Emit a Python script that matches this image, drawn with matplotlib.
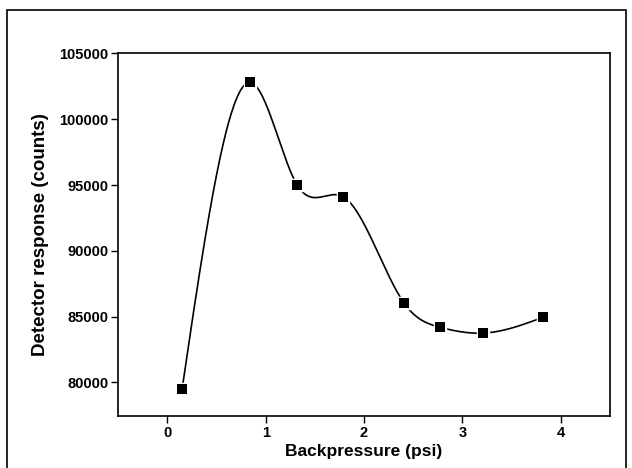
import matplotlib
matplotlib.use('Agg')
import matplotlib.pyplot as plt
import numpy as np
from matplotlib.patches import Rectangle

backpressure = [0.15, 0.84, 1.32, 1.79, 2.41, 2.77, 3.21, 3.82]
response = [79500, 102800, 95000, 94100, 86000, 84200, 83750, 84950]
xticks = [0, 1, 2, 3, 4]
yticks = [80000, 85000, 90000, 95000, 100000, 105000]


def natural_spline(x, y, n=400):
    x = np.asarray(x, float)
    y = np.asarray(y, float)
    m = len(x)
    h = np.diff(x)
    A = np.zeros((m, m))
    b = np.zeros(m)
    A[0, 0] = A[-1, -1] = 1
    for i in range(1, m - 1):
        A[i, i - 1] = h[i - 1]
        A[i, i] = 2 * (h[i - 1] + h[i])
        A[i, i + 1] = h[i]
        b[i] = 3 * ((y[i + 1] - y[i]) / h[i] - (y[i] - y[i - 1]) / h[i - 1])
    c = np.linalg.solve(A, b)
    xs = np.linspace(x[0], x[-1], n)
    k = np.clip(np.searchsorted(x, xs) - 1, 0, m - 2)
    dx = xs - x[k]
    bb = (y[k + 1] - y[k]) / h[k] - h[k] * (2 * c[k] + c[k + 1]) / 3
    d = (c[k + 1] - c[k]) / (3 * h[k])
    return xs, y[k] + bb * dx + c[k] * dx ** 2 + d * dx ** 3


plt.rcParams['font.family'] = ['Liberation Sans', 'DejaVu Sans']

fig = plt.figure(figsize=(6.32, 4.68), dpi=100)
ax = fig.add_axes([0.187, 0.111, 0.778, 0.775])

xs, ys = natural_spline(backpressure, response)
ax.plot(xs, ys, color='black', lw=1.2, zorder=2)
ax.plot(backpressure, response, 's', color='black', ms=7,
        mec='white', mew=2.5, zorder=3)
ax.plot(backpressure, response, 's', color='black', ms=6.5, mew=0, zorder=4)

ax.set_xlim(-0.5, 4.5)
ax.set_ylim(77450, 105000)
ax.set_xticks(xticks)
ax.set_yticks(yticks)
ax.tick_params(direction='out', length=5, width=1, labelsize=10.5, pad=2)
for lab in ax.get_xticklabels() + ax.get_yticklabels():
    lab.set_fontweight('bold')
for s in ax.spines.values():
    s.set_linewidth(1.2)

ax.set_xlabel('Backpressure (psi)', fontsize=12.5, fontweight='bold', labelpad=3)
ax.set_ylabel('Detector response (counts)', fontsize=13.5, fontweight='bold', labelpad=7)

fig.patches.append(Rectangle((7 / 632, -0.1), 619 / 632, 1.1 - 10 / 468,
                             transform=fig.transFigure, fill=False,
                             lw=1.2, ec='black'))

plt.savefig('out.png', dpi=100)
